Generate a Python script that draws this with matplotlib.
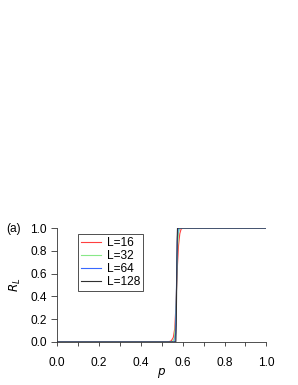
import matplotlib
matplotlib.use('Agg')
import matplotlib.pyplot as plt
from matplotlib.ticker import MultipleLocator, FormatStrFormatter

plt.rcParams['font.family'] = ['Liberation Sans', 'DejaVu Sans']
plt.rcParams['font.size'] = 8.6

# values
labels = ['L=16', 'L=32', 'L=64', 'L=128']
colors = ['#ff4040', '#88e888', '#3868ff', '#303030']

p16 = [0.0, 0.53, 0.545, 0.555, 0.562, 0.567, 0.571, 0.575, 0.58, 0.586, 0.592, 0.60, 1.0]
r16 = [0.0, 0.0, 0.01, 0.04, 0.12, 0.30, 0.50, 0.68, 0.85, 0.95, 0.99, 1.0, 1.0]

p32 = [0.0, 0.55, 0.56, 0.565, 0.569, 0.572, 0.576, 0.58, 0.586, 1.0]
r32 = [0.0, 0.0, 0.03, 0.15, 0.38, 0.60, 0.85, 0.96, 1.0, 1.0]

p64 = [0.0, 0.562, 0.566, 0.569, 0.572, 0.575, 0.579, 1.0]
r64 = [0.0, 0.0, 0.08, 0.35, 0.70, 0.93, 1.0, 1.0]

p128 = [0.0, 0.567, 0.569, 0.571, 0.573, 0.575, 1.0]
r128 = [0.0, 0.0, 0.15, 0.50, 0.88, 1.0, 1.0]

series = [(p16, r16), (p32, r32), (p64, r64), (p128, r128)]

fig = plt.figure(figsize=(2.98, 3.85), dpi=100)
ax = fig.add_axes([0.192, 0.1117, 0.702, 0.296])

for (p, r), lab, c in zip(series, labels, colors):
    ax.plot(p, r, color=c, lw=0.8, label=lab)

ax.set_xlim(0, 1)
ax.set_ylim(0, 1)
ax.xaxis.set_major_locator(MultipleLocator(0.2))
ax.xaxis.set_minor_locator(MultipleLocator(0.1))
ax.yaxis.set_major_locator(MultipleLocator(0.2))
ax.xaxis.set_major_formatter(FormatStrFormatter('%.1f'))
ax.yaxis.set_major_formatter(FormatStrFormatter('%.1f'))
ax.spines['top'].set_visible(False)
ax.spines['right'].set_visible(False)
for s in ('left', 'bottom'):
    ax.spines[s].set_linewidth(0.6)
    ax.spines[s].set_color('#333333')
ax.tick_params(which='both', direction='out', width=0.6, color='#333333')
ax.tick_params(axis='x', which='both', length=3, pad=8)
ax.tick_params(axis='y', which='major', length=4, pad=3.5)

ax.set_xlabel('$p$', labelpad=-2)
ax.set_ylabel('$R_L$', labelpad=5)
ax.text(-0.245, 0.99, '(a)', transform=ax.transAxes, ha='left', va='center')

leg = ax.legend(loc='upper left', bbox_to_anchor=(0.099, 0.947), frameon=True,
                fancybox=False, edgecolor='#333333', framealpha=1,
                handlelength=1.7, handletextpad=0.45, borderpad=0.25,
                labelspacing=0.08, borderaxespad=0)
leg.get_frame().set_linewidth(0.6)

fig.savefig('out.png', dpi=100)
